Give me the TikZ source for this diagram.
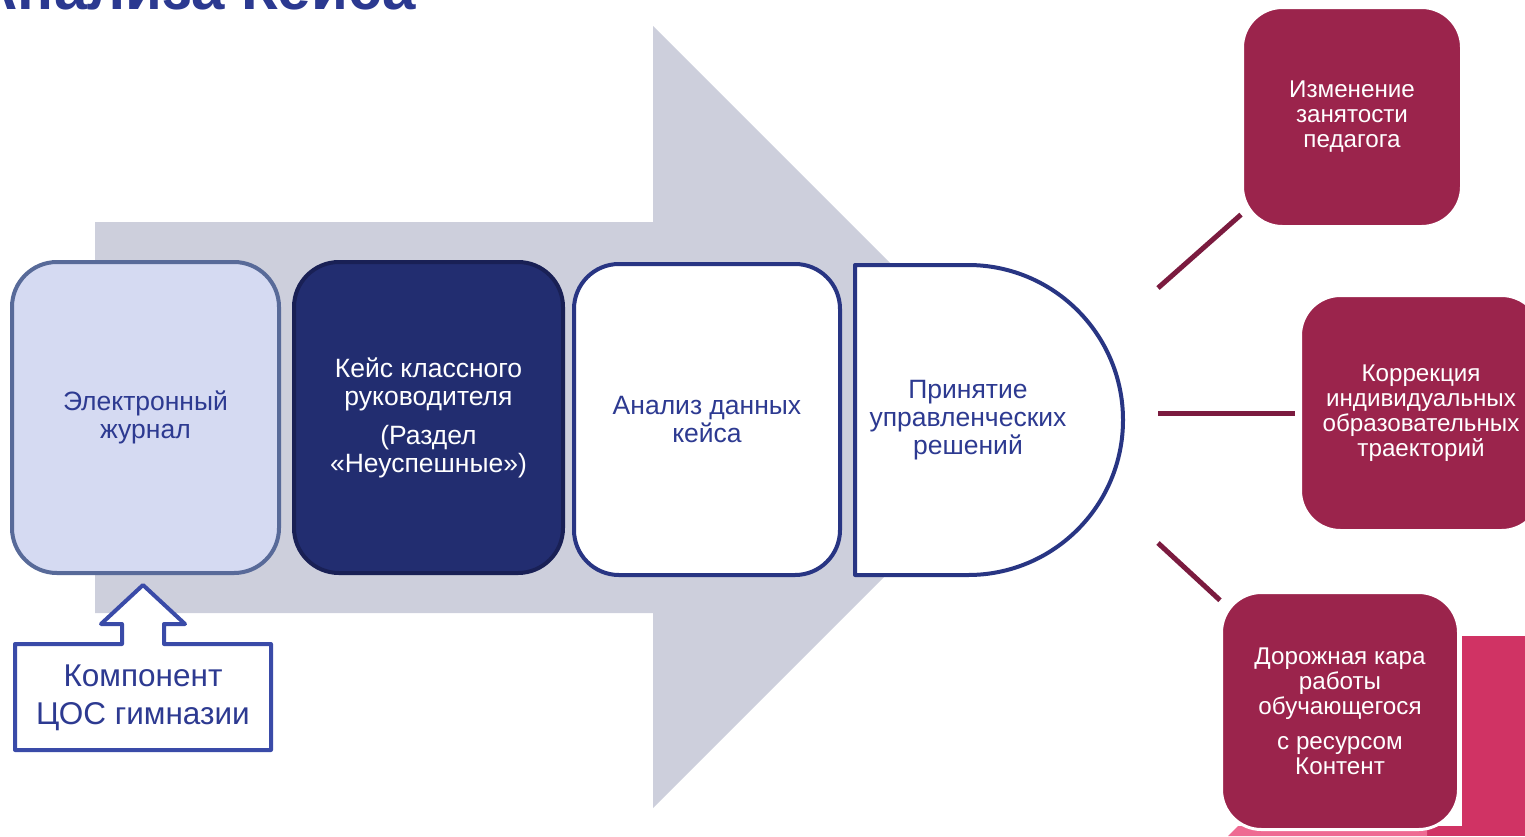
\documentclass[tikz,border=0pt]{standalone}
\usepackage{fontspec}
\setmainfont{Liberation Sans}
\definecolor{titleblue}{RGB}{43,57,144}
\definecolor{textblue}{RGB}{45,58,145}
\definecolor{arrowgrey}{RGB}{205,207,220}
\definecolor{boxonefill}{RGB}{213,218,242}
\definecolor{boxoneline}{RGB}{88,106,153}
\definecolor{boxtwofill}{RGB}{34,45,112}
\definecolor{boxtwoline}{RGB}{25,32,85}
\definecolor{navyline}{RGB}{40,53,131}
\definecolor{compline}{RGB}{58,75,168}
\definecolor{maroon}{RGB}{155,36,76}
\definecolor{maroonline}{RGB}{123,27,63}
\definecolor{pinkdark}{RGB}{208,51,100}
\definecolor{pinklight}{RGB}{238,106,146}
\begin{document}
\begin{tikzpicture}[x=1pt,y=-1pt,
  mainbox/.style={rectangle, rounded corners=45pt, line width=4pt, align=center,
    font=\fontsize{26.5}{28}\selectfont, inner sep=0pt},
  rbox/.style={rectangle, rounded corners=40pt, fill=maroon, draw=white, line width=3pt,
    text=white, align=center, font=\fontsize{24.2}{25}\selectfont, inner sep=0pt},
  conn/.style={draw=maroonline, line width=5pt}
]
\useasboundingbox (0,0) rectangle (1525,836);
\clip (0,0) rectangle (1525,836);

% title (cut off at top)
\node[anchor=base east, font=\bfseries\fontsize{60}{60}\selectfont, text=titleblue, inner sep=0pt]
  (title) at (416,9) {Анализа Кейса};

% big grey arrow
\fill[arrowgrey] (95,222) -- (653,222) -- (653,26) -- (1044,417) -- (653,808)
  -- (653,613) -- (95,613) -- cycle;

% process boxes
\node[mainbox, fill=boxonefill, draw=boxoneline, text=textblue,
  minimum width=267pt, minimum height=311pt] (journal) at (145.5,417.5)
  {Электронный\\журнал};
\node[mainbox, fill=boxtwofill, draw=boxtwoline, text=white,
  minimum width=269pt, minimum height=311pt] (case) at (428.5,417.5)
  {Кейс классного\\руководителя\\[11pt](Раздел\\«Неуспешные»)};
\node[mainbox, fill=white, draw=navyline, text=textblue,
  minimum width=266pt, minimum height=311pt] (analysis) at (707,419.5)
  {Анализ данных\\кейса};

% D-shaped decision box
\filldraw[fill=white, draw=navyline, line width=4pt, line join=round]
  (855,265) -- (968,265) arc[start angle=90, end angle=-90, radius=155pt]
  -- (855,575) -- cycle;
\node[align=center, text=textblue, font=\fontsize{26.5}{28}\selectfont, inner sep=0pt]
  (decision) at (968,420) {Принятие\\управленческих\\решений};

% component callout with up arrow
\draw[draw=compline, fill=white, line width=4pt, line join=round]
  (15,644) -- (122,644) -- (122,624) -- (101,624) -- (143,585) -- (185,624)
  -- (164,624) -- (164,644) -- (271,644) -- (271,750) -- (15,750) -- cycle;
\node[align=center, text=textblue, font=\fontsize{31.5}{38}\selectfont, inner sep=0pt]
  (component) at (143,698) {Компонент\\ЦОС гимназии};

% pink decoration bottom right
\fill[pinkdark] (1462,636) rectangle (1525,836);
\fill[pinkdark] (1427,826) rectangle (1462,836);
\fill[pinklight] (1228,836) -- (1238,826) -- (1427,826) -- (1427,836) -- cycle;

% outcome boxes
\node[rbox, minimum width=219pt, minimum height=219pt] (outA) at (1352,117)
  {Изменение\\занятости\\педагога};
\node[rbox, minimum width=241pt, minimum height=235pt] (outB) at (1421,413)
  {Коррекция\\индивидуальных\\образовательных\\траекторий};
\node[rbox, minimum width=237pt, minimum height=237pt] (outC) at (1340,711)
  {Дорожная кара\\работы\\обучающегося\\[10pt]с ресурсом\\Контент};

% connectors
\coordinate (c1) at (1158,288);
\coordinate (c2) at (1158,413);
\coordinate (c3) at (1158,543);
\draw[conn] (c1) -- (outA);
\draw[conn, shorten >=4pt] (c2) -- (outB);
\draw[conn] (c3) -- (outC);
\end{tikzpicture}
\end{document}
